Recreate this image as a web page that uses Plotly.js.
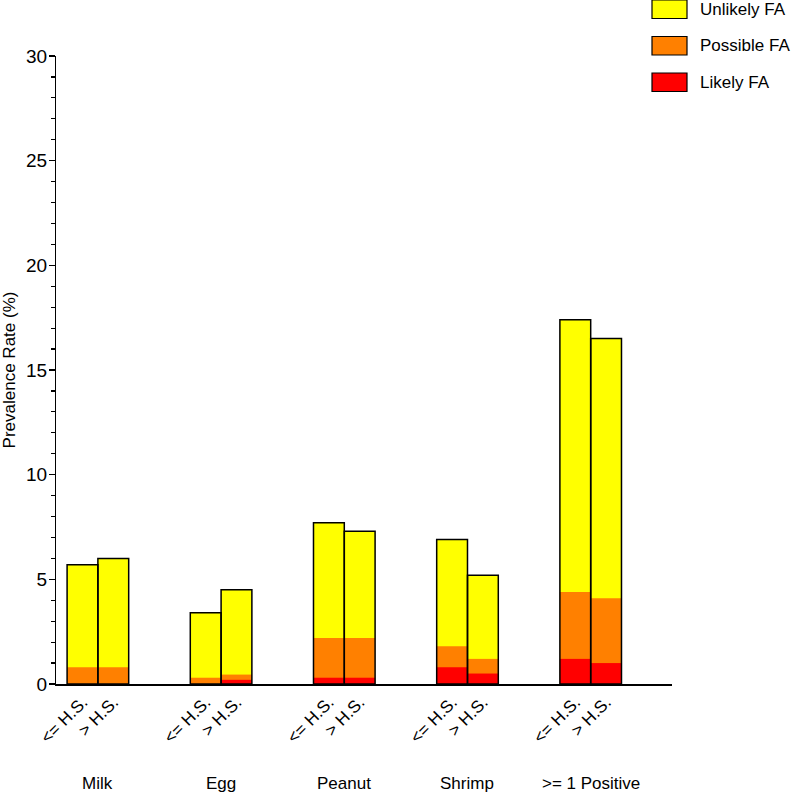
<!DOCTYPE html>
<html>
<head>
<meta charset="utf-8">
<script src="https://cdn.plot.ly/plotly-3.0.1.min.js"></script>
<style>html,body{margin:0;padding:0;background:#fff;}#chart{width:800px;height:795px;}</style>
</head>
<body>
<div id="chart"></div>
<script>
// Food groups (two education levels per group)
const groups = ["Milk", "Egg", "Peanut", "Shrimp", ">= 1 Positive"];
const levels = ["<= H.S.", "> H.S."];
// Segment values (%) per bar, in order: Milk<=, Milk>, Egg<=, Egg>, ...
const likelyFA   = [0.0, 0.0, 0.0, 0.2, 0.3, 0.3, 0.8, 0.5, 1.2, 1.0];
const possibleFA = [0.8, 0.8, 0.3, 0.25, 1.9, 1.9, 1.0, 0.7, 3.2, 3.1];
const unlikelyFA = [4.9, 5.2, 3.1, 4.05, 5.5, 5.1, 5.1, 4.0, 13.0, 12.4];
const yRange = [0, 30];
const yLabelStep = 5;

const xPos = [], tickText = [];
groups.forEach((g, i) => {
  levels.forEach((l, j) => { xPos.push(4 * i + (j === 0 ? -0.5 : 0.5)); tickText.push(l); });
});
const cumLikely = likelyFA.slice();
const cumPossible = likelyFA.map((v, i) => v + possibleFA[i]);
const cumTotal = cumPossible.map((v, i) => v + unlikelyFA[i]);

// y ticks: minor every 1, labels every 5
const yTickVals = [], yTickText = [];
for (let v = yRange[0]; v <= yRange[1]; v++) { yTickVals.push(v); yTickText.push(v % yLabelStep === 0 ? String(v) : ""); }

const colors = {unlikely: "#FFFF00", possible: "#FF8000", likely: "#FF0000"};
function barTrace(name, y, color, lineW, yax) {
  return {type: "bar", name: name, x: xPos, y: y, width: 1, yaxis: yax || "y",
    marker: {color: color, line: {color: "#000", width: lineW}},
    showlegend: false, hoverinfo: "skip"};
}
const data = [
  barTrace("Unlikely FA", cumTotal, colors.unlikely, 0),
  barTrace("Possible FA", cumPossible, colors.possible, 0),
  barTrace("Likely FA", cumLikely, colors.likely, 0),
  barTrace("outline", cumTotal, "rgba(0,0,0,0)", 1.5, "y2")
];

// custom legend (paper coords)
const legendItems = [["Unlikely FA", colors.unlikely], ["Possible FA", colors.possible], ["Likely FA", colors.likely]];
const shapes = [], annotations = [];
const plotL = 56, plotT = 56, plotW = 616, plotH = 628;
const px = x => (x - plotL) / plotW;
const py = y => (plotT + plotH - y) / plotH;
legendItems.forEach((it, k) => {
  const top = 0 + k * 36.5, bot = top + 18.5;
  shapes.push({type: "rect", xref: "paper", yref: "paper", x0: px(652), x1: px(687), y0: py(bot), y1: py(top),
    fillcolor: it[1], line: {color: "#000", width: 1.2}});
  annotations.push({xref: "paper", yref: "paper", x: px(698), y: py((top + bot) / 2), text: it[0],
    showarrow: false, xanchor: "left", yanchor: "middle", font: {size: 17, color: "#000"}});
});
groups.forEach((g, i) => {
  annotations.push({xref: "x", yref: "paper", x: 4 * i, y: py(783), text: g, showarrow: false,
    xanchor: "center", yanchor: "middle", font: {size: 17, color: "#000"}});
});

const layout = {
  width: 800, height: 795,
  margin: {l: plotL, r: 800 - plotL - plotW, t: plotT, b: 795 - plotT - plotH, pad: 0},
  paper_bgcolor: "#fff", plot_bgcolor: "#fff",
  font: {family: "Liberation Sans, Arial, sans-serif", color: "#000", size: 17},
  barmode: "overlay", showlegend: false,
  xaxis: {range: [-1.36, 18.64], tickvals: xPos, ticktext: tickText, tickangle: -45,
    showline: true, linecolor: "#000", linewidth: 1.5, ticks: "", showgrid: false, zeroline: false,
    tickfont: {size: 17}, fixedrange: true},
  yaxis: {range: yRange, tickmode: "array", tickvals: yTickVals, ticktext: yTickText,
    ticks: "outside", ticklen: 3.5, tickwidth: 1.2, tickcolor: "#000",
    showline: true, linecolor: "#000", linewidth: 1.5, showgrid: false, zeroline: false,
    tickfont: {size: 19},
    title: {text: "Prevalence Rate (%)", font: {size: 17}, standoff: 10}},
  yaxis2: {range: yRange, overlaying: "y", side: "left", anchor: "x", tickmode: "linear", tick0: 0, dtick: yLabelStep,
    ticks: "outside", ticklen: 6, tickwidth: 1.3, tickcolor: "#000", showticklabels: false,
    showline: false, showgrid: false, zeroline: false},
  shapes: shapes, annotations: annotations
};
Plotly.newPlot("chart", data, layout, {displayModeBar: false, staticPlot: true});
</script>
</body>
</html>
